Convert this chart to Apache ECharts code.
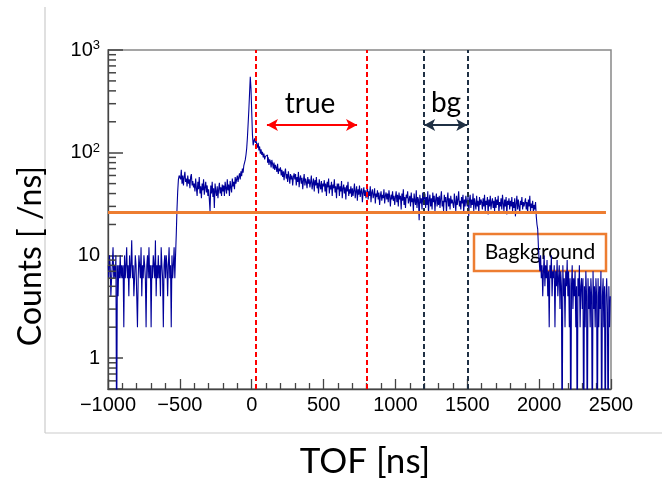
<!DOCTYPE html>
<html>
<head>
<meta charset="utf-8">
<script src="https://cdn.jsdelivr.net/npm/echarts@6/dist/echarts.min.js"></script>
<style>
  html, body { margin: 0; padding: 0; background: #fff; }
  #main { width: 662px; height: 481px; }
</style>
</head>
<body>
<div id="main"></div>
<script>
// TOF histogram, 5 ns bins starting at -1000 ns (0 = empty bin)
var binStart = -1000;
var binWidth = 5;
var counts = [
  8, 6, 10, 8, 4, 6, 8, 12, 6, 8, 6, 10, 0, 8, 4, 8, 6, 10, 6, 8,          // -1000
  6, 8, 2, 10, 6, 8, 12, 6, 8, 4, 10, 6, 8, 14, 6, 8, 4, 6, 10, 8,         // -900
  8, 2, 6, 10, 8, 6, 12, 4, 8, 6, 10, 8, 6, 2, 8, 10, 6, 12, 6, 8,         // -800
  2, 8, 6, 10, 8, 6, 14, 4, 8, 6, 10, 6, 8, 4, 12, 8, 6, 2, 8, 10,         // -700
  6, 10, 8, 4, 8, 12, 6, 8, 2, 10, 6, 8, 12, 6, 10, 16, 28, 42, 55, 60,    // -600
  62, 55, 68, 50, 60, 48, 58, 65, 52, 56, 47, 60, 50, 55, 45, 58, 62, 48, 53, 46, // -500
  50, 42, 56, 45, 38, 52, 44, 58, 40, 47, 36, 50, 43, 55, 39, 46, 52, 41, 48, 38, // -400
  44, 35, 27, 48, 40, 52, 37, 45, 29, 50, 42, 38, 47, 36, 44, 51, 40, 46, 38, 49, // -300
  42, 48, 38, 52, 45, 40, 55, 43, 49, 38, 53, 46, 41, 56, 47, 52, 44, 58, 50, 55, // -200
  60, 52, 58, 63, 55, 66, 59, 70, 64, 75, 72, 85, 95, 110, 140, 190, 260, 380, 550, 420, // -100
  250, 150, 118, 130, 138, 125, 132, 120, 112, 125, 105, 115, 98, 108, 95, 102, 90, 98, 86, 92, // 0
  88, 95, 80, 90, 76, 86, 82, 72, 85, 78, 70, 80, 68, 76, 72, 65, 78, 62, 70, 66, // 100
  72, 60, 68, 58, 66, 54, 64, 70, 56, 62, 52, 66, 58, 50, 62, 55, 60, 48, 58, 63, // 200
  55, 62, 48, 58, 52, 65, 46, 56, 60, 50, 57, 44, 54, 62, 48, 56, 52, 45, 58, 50, // 300
  55, 46, 52, 60, 44, 50, 56, 42, 54, 48, 58, 45, 51, 40, 55, 48, 44, 53, 41, 50, // 400
  47, 54, 42, 50, 38, 52, 46, 56, 40, 48, 44, 52, 38, 49, 45, 55, 41, 47, 36, 50, // 500
  44, 50, 38, 47, 42, 53, 36, 45, 49, 40, 46, 35, 48, 42, 52, 38, 44, 40, 47, 37, // 600
  45, 38, 43, 50, 36, 42, 47, 34, 44, 39, 48, 37, 42, 45, 33, 41, 46, 38, 43, 36, // 700
  40, 46, 35, 42, 38, 47, 33, 41, 44, 36, 39, 45, 32, 40, 37, 43, 35, 41, 31, 38, // 800
  42, 34, 39, 36, 44, 32, 38, 41, 35, 40, 33, 43, 37, 30, 39, 35, 42, 34, 38, 31, // 900
  37, 42, 33, 39, 30, 41, 35, 38, 28, 40, 34, 44, 31, 37, 29, 39, 36, 42, 32, 35, // 1000
  38, 30, 41, 33, 36, 27, 40, 34, 31, 43, 29, 37, 35, 22, 39, 32, 36, 28, 41, 33, // 1100
  34, 40, 29, 37, 31, 42, 26, 35, 39, 30, 36, 28, 41, 33, 38, 27, 35, 40, 30, 37, // 1200
  31, 38, 29, 36, 42, 30, 34, 27, 39, 33, 37, 26, 35, 41, 30, 36, 28, 38, 32, 35, // 1300
  36, 29, 40, 33, 27, 38, 31, 35, 42, 30, 34, 28, 37, 32, 39, 26, 35, 30, 38, 33, // 1400
  30, 37, 24, 34, 39, 29, 35, 31, 40, 27, 36, 32, 28, 38, 30, 34, 26, 37, 31, 35, // 1500
  33, 28, 36, 30, 39, 27, 34, 31, 37, 25, 35, 30, 38, 28, 33, 36, 29, 34, 27, 37, // 1600
  29, 35, 31, 38, 26, 33, 30, 36, 28, 39, 32, 27, 35, 30, 37, 25, 34, 31, 36, 28, // 1700
  34, 30, 37, 27, 33, 29, 36, 24, 32, 38, 28, 35, 30, 26, 34, 31, 37, 28, 33, 30, // 1800
  31, 36, 28, 33, 26, 35, 30, 38, 27, 32, 29, 34, 26, 31, 28, 33, 24, 20, 18, 12, // 1900
  9, 7, 10, 6, 8, 4, 7, 10, 5, 8, 6, 9, 4, 7, 2, 8, 6, 10, 4, 7,           // 2000
  6, 8, 2, 7, 5, 9, 4, 6, 8, 3, 7, 5, 0, 8, 4, 6, 2, 7, 5, 9,              // 2100
  4, 7, 2, 6, 0, 5, 8, 3, 6, 4, 7, 2, 5, 0, 6, 4, 8, 2, 5, 6,              // 2200
  3, 6, 0, 5, 2, 7, 4, 0, 6, 3, 5, 2, 6, 4, 0, 7, 3, 5, 2, 6,              // 2300
  4, 0, 6, 2, 5, 3, 7, 0, 4, 6, 2, 5, 0, 4, 6, 3, 0, 5, 2, 4               // 2400
];

var xTicks = [-1000, 2500, 500];          // min, max, step
var yMinor = [0.6, 0.7, 0.8, 0.9, 2, 3, 4, 5, 6, 7, 8, 9,
              20, 30, 40, 50, 60, 70, 80, 90, 200, 300, 400, 500, 600, 700, 800, 900];

var trueWindow = [30, 800];
var bgWindow = [1200, 1500];
var trueArrow = [106, 733];
var arrowLevel = 186;
var bgLevel = 26.5;
var bgLineEnd = 2465;

// empty bins are drawn below the axis floor, like ROOT does on a log scale
var histData = counts.map(function (c, i) {
  return [binStart + binWidth * (i + 0.5), c > 0 ? c : 0.1];
});

var myChart = echarts.init(document.getElementById('main'), null, {renderer: 'canvas'});

var numFont = 'Liberation Sans';
var tickColor = '#444';

function arrowPair(x0, x1, y, color) {
  return [
    {coord: [x0, y], symbol: 'arrow', symbolSize: [9, 11], lineStyle: {color: color, width: 2, type: 'solid'}},
    {coord: [x1, y], symbol: 'arrow', symbolSize: [9, 11]}
  ];
}

var option = {
  animation: false,
  backgroundColor: '#fff',
  grid: {
    left: 108, top: 50, right: 51, bottom: 92,
    show: true, borderColor: '#888', borderWidth: 1.5, backgroundColor: 'transparent'
  },
  xAxis: {
    type: 'value',
    min: xTicks[0], max: xTicks[1], interval: xTicks[2],
    axisLine: {onZero: false, lineStyle: {color: tickColor, width: 1.3}},
    axisTick: {inside: true, length: 10, lineStyle: {color: tickColor, width: 1.3}},
    minorTick: {show: true, splitNumber: 5, length: 6, lineStyle: {color: tickColor, width: 1.3}},
    splitLine: {show: false},
    axisLabel: {
      color: '#000', fontSize: 20, fontFamily: numFont, margin: 6,
      formatter: function (v) { return String(v).replace('-', '\u2212'); }
    }
  },
  yAxis: {
    type: 'log', logBase: 10, min: 0.5, max: 1000,
    axisLine: {show: true, onZero: false, lineStyle: {color: tickColor, width: 1.3}},
    axisTick: {show: true, inside: true, length: 15, lineStyle: {color: tickColor, width: 1.5}},
    splitLine: {show: false},
    axisLabel: {
      margin: 8, color: '#000', fontFamily: numFont,
      formatter: function (v) {
        if (v === 1) return '{b|1}';
        if (v === 10) return '{b|10}';
        if (v === 100) return '{b|10}{s|2}';
        if (v === 1000) return '{b|10}{s|3}';
        return '';
      },
      rich: {
        b: {fontSize: 20, fontFamily: numFont, color: '#000', lineHeight: 22},
        s: {fontSize: 13, fontFamily: numFont, color: '#000', verticalAlign: 'top', lineHeight: 22}
      }
    }
  },
  series: [{
    type: 'line',
    step: 'middle',
    data: histData,
    showSymbol: false,
    clip: true,
    lineStyle: {color: '#00009a', width: 1.1},
    itemStyle: {color: '#00009a'},
    markLine: {
      silent: true,
      symbol: 'none',
      label: {show: false},
      data: [
        {xAxis: trueWindow[0], lineStyle: {color: '#ff0000', width: 2, type: [5, 3]}},
        {xAxis: trueWindow[1], lineStyle: {color: '#ff0000', width: 2, type: [5, 3]}},
        {xAxis: bgWindow[0], lineStyle: {color: '#1f3044', width: 2, type: [5, 3]}},
        {xAxis: bgWindow[1], lineStyle: {color: '#1f3044', width: 2, type: [5, 3]}},
        [
          {coord: [xTicks[0], bgLevel], lineStyle: {color: '#ed7d31', width: 3, type: 'solid'}},
          {coord: [bgLineEnd, bgLevel]}
        ],
        arrowPair(trueArrow[0], trueArrow[1], arrowLevel, '#ff0000'),
        arrowPair(bgWindow[0], bgWindow[1], arrowLevel, '#1f3044')
      ]
    }
  }, {
    // log-spaced minor ticks (2..9 per decade) on the y axis
    type: 'custom',
    silent: true,
    clip: false,
    z: 5,
    data: yMinor.map(function (v) { return [xTicks[0], v]; }),
    renderItem: function (params, api) {
      var p = api.coord([api.value(0), api.value(1)]);
      return {
        type: 'line',
        shape: {x1: p[0], y1: p[1], x2: p[0] + 8, y2: p[1]},
        style: {stroke: tickColor, lineWidth: 1.5}
      };
    }
  }],
  graphic: [
    // light frame of the pasted figure
    {type: 'line', shape: {x1: 45, y1: 7, x2: 45, y2: 433}, style: {stroke: '#cccccc', lineWidth: 1.2}},
    {type: 'line', shape: {x1: 45, y1: 433, x2: 662, y2: 433}, style: {stroke: '#cccccc', lineWidth: 1.2}},
    // axis titles
    {type: 'text', x: 31, y: 256, rotation: Math.PI / 2,
     style: {text: 'Counts [ /ns]', font: '32px Lato', fill: '#000', align: 'center', verticalAlign: 'middle'}},
    {type: 'text', x: 365, y: 462,
     style: {text: 'TOF [ns]', font: '35px Lato', fill: '#000', align: 'center', verticalAlign: 'middle'}},
    // annotations
    {type: 'text', x: 310, y: 104,
     style: {text: 'true', font: '28px Lato', fill: '#000', align: 'center', verticalAlign: 'middle'}},
    {type: 'text', x: 446, y: 103,
     style: {text: 'bg', font: '28px Lato', fill: '#000', align: 'center', verticalAlign: 'middle'}},
    {type: 'rect', shape: {x: 474, y: 234, width: 132, height: 37},
     style: {fill: '#fff', stroke: '#ed7d31', lineWidth: 2.5}},
    {type: 'text', x: 540, y: 252,
     style: {text: 'Bagkground', font: '21px Lato', fill: '#000', align: 'center', verticalAlign: 'middle'}}
  ]
};
myChart.setOption(option);
</script>
</body>
</html>
